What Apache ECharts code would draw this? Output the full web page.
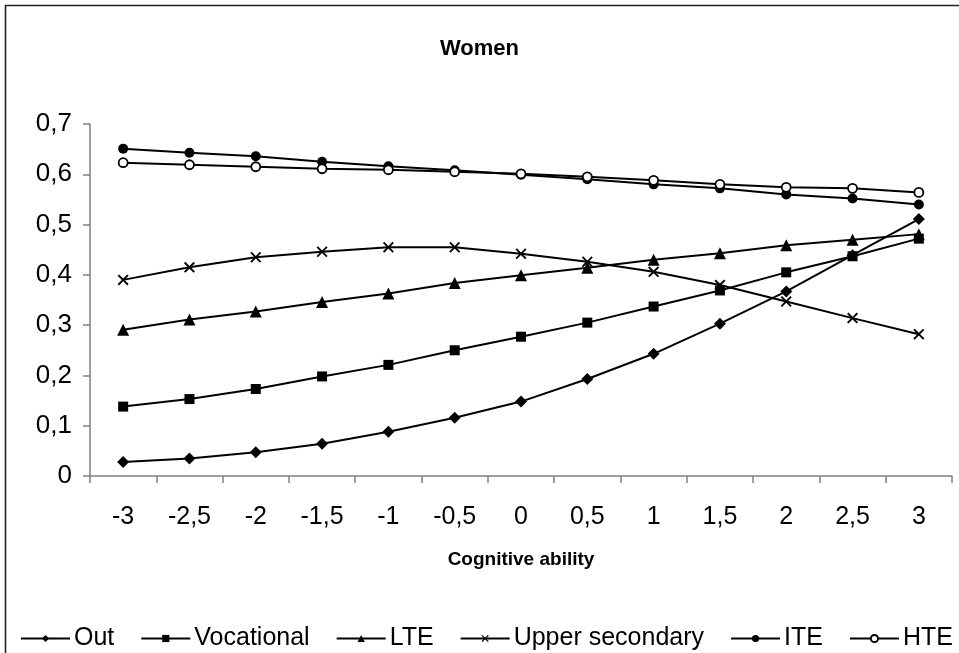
<!DOCTYPE html>
<html>
<head>
<meta charset="utf-8">
<script src="https://cdn.jsdelivr.net/npm/echarts@6/dist/echarts.min.js"></script>
<style>
html,body{margin:0;padding:0;background:#fff;}
#chart{width:959px;height:653px;}
</style>
</head>
<body>
<div id="chart"></div>
<script>
var categories = ['-3','-2,5','-2','-1,5','-1','-0,5','0','0,5','1','1,5','2','2,5','3'];
var outVals = [0.028,0.035,0.047,0.064,0.088,0.116,0.148,0.193,0.243,0.303,0.367,0.439,0.511];
var vocationalVals = [0.138,0.153,0.173,0.198,0.221,0.250,0.277,0.305,0.337,0.369,0.405,0.437,0.472];
var lteVals = [0.291,0.311,0.327,0.346,0.363,0.384,0.399,0.414,0.430,0.443,0.459,0.470,0.481];
var upperVals = [0.390,0.415,0.435,0.446,0.455,0.455,0.442,0.426,0.406,0.380,0.347,0.314,0.282];
var iteVals = [0.651,0.643,0.636,0.625,0.616,0.608,0.599,0.590,0.580,0.572,0.560,0.552,0.540];
var hteVals = [0.623,0.619,0.615,0.611,0.609,0.605,0.601,0.595,0.588,0.580,0.574,0.572,0.564];
var seriesNames = ['Out','Vocational','LTE','Upper secondary','ITE','HTE'];
var yTicks = {min:0, max:0.7, interval:0.1};

var FONT = '"Liberation Sans", Arial, sans-serif';
var xPath = 'path://M0,1.2 L1.2,0 L5,3.8 L8.8,0 L10,1.2 L6.2,5 L10,8.8 L8.8,10 L5,6.2 L1.2,10 L0,8.8 L3.8,5 Z';

function mk(name, data, symbol, size, fill) {
  return {
    name: name, type: 'line', data: data,
    symbol: symbol, symbolSize: size, showSymbol: true,
    lineStyle: {color: '#000', width: 2},
    itemStyle: {color: fill || '#000', borderColor: '#000', borderWidth: fill ? 1.8 : 0},
    emphasis: {disabled: true},
    z: 3
  };
}

var chart = echarts.init(document.getElementById('chart'), null, {renderer: 'canvas'});
chart.setOption({
  animation: false,
  backgroundColor: '#fff',
  title: {
    text: 'Women', left: 'center', top: 33,
    textStyle: {fontFamily: FONT, fontSize: 22, fontWeight: 'bold', color: '#000'}
  },
  graphic: [{
    type: 'rect', shape: {x: 5.5, y: 5.5, width: 1000, height: 1000},
    style: {fill: 'none', stroke: '#222', lineWidth: 1.6}, silent: true, z: 0
  }],
  legend: {
    data: seriesNames, left: 20, top: 626, width: 939, padding: 0,
    itemWidth: 49, itemHeight: 9, itemGap: 26,
    textStyle: {fontFamily: FONT, fontSize: 25, color: '#000', padding: [0,0,0,-1]}
  },
  grid: {left: 90, right: 7, top: 124, bottom: 177, containLabel: false},
  xAxis: {
    type: 'category', data: categories, boundaryGap: true,
    name: 'Cognitive ability', nameLocation: 'middle', nameGap: 74,
    nameTextStyle: {fontFamily: FONT, fontSize: 19, fontWeight: 'bold', color: '#000'},
    axisLine: {lineStyle: {color: '#808080', width: 1.5}},
    axisTick: {show: true, inside: false, length: 7, lineStyle: {color: '#808080', width: 1.5}},
    axisLabel: {fontFamily: FONT, fontSize: 25, color: '#000', margin: 29, interval: 0},
    splitLine: {show: false}
  },
  yAxis: {
    type: 'value', min: yTicks.min, max: yTicks.max, interval: yTicks.interval,
    axisLine: {show: true, lineStyle: {color: '#808080', width: 1.5}},
    axisTick: {show: true, inside: false, length: 7, lineStyle: {color: '#808080', width: 1.5}},
    axisLabel: {fontFamily: FONT, fontSize: 26, color: '#000', margin: 18,
      formatter: function (v) { return v === 0 ? '0' : v.toFixed(1).replace('.', ','); }},
    splitLine: {show: false}
  },
  series: [
    mk('Out', outVals, 'diamond', 12),
    mk('Vocational', vocationalVals, 'rect', 10),
    mk('LTE', lteVals, 'triangle', 12),
    mk('Upper secondary', upperVals, xPath, 11),
    mk('ITE', iteVals, 'circle', 10),
    mk('HTE', hteVals, 'circle', 9, '#fff')
  ]
});
</script>
</body>
</html>
